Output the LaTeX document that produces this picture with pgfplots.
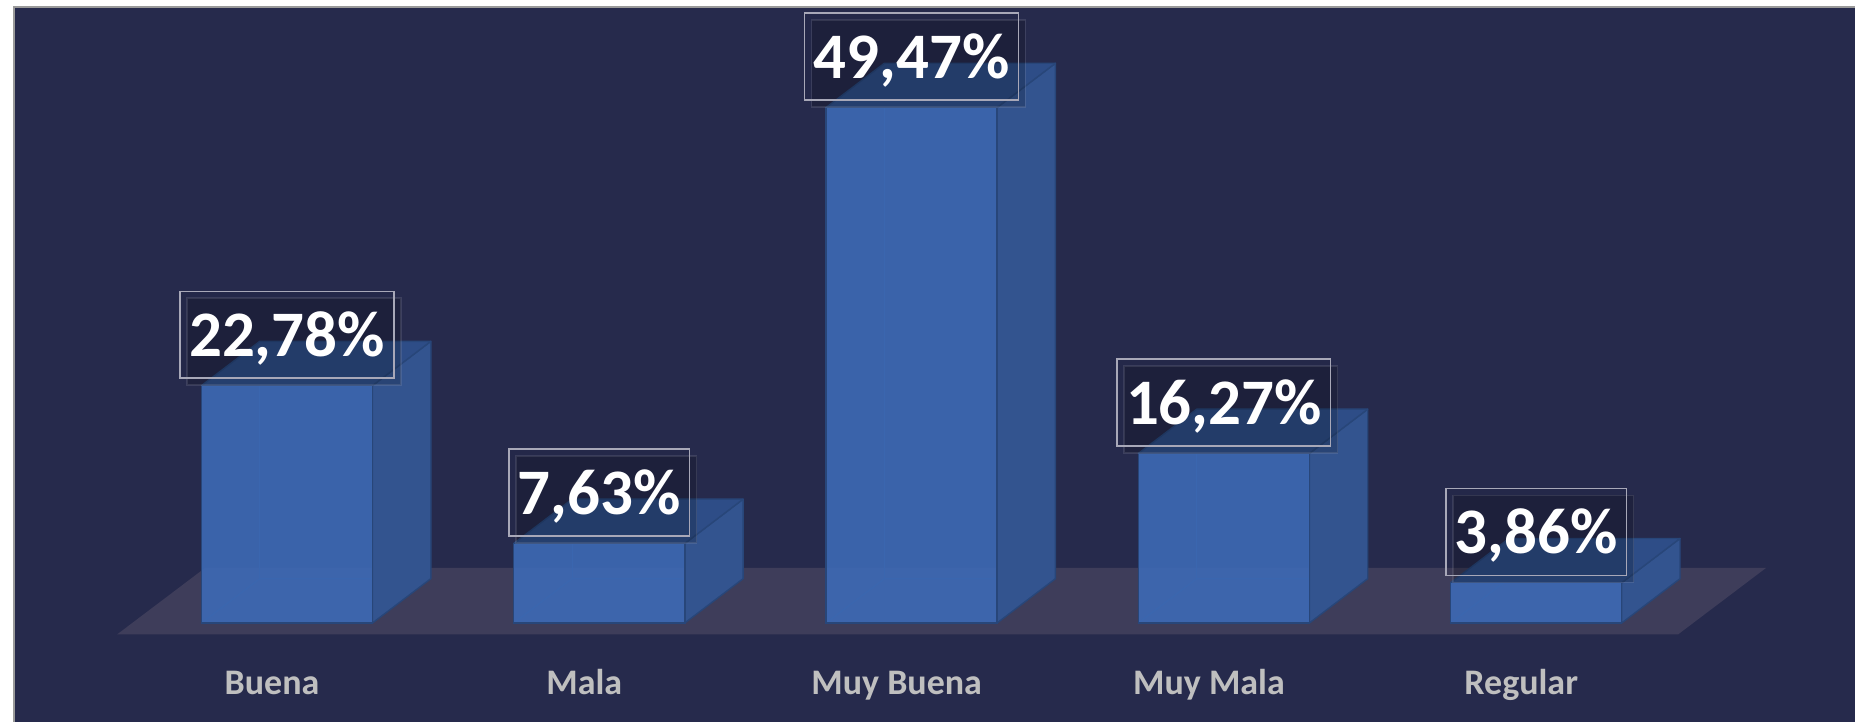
\documentclass[border=0pt]{standalone}
\usepackage{pgfplots}
\pgfplotsset{compat=1.18}
\usepackage{pgfplotstable}
\usepackage{fontspec}
\setmainfont{Carlito}
\usetikzlibrary{shadows}

\definecolor{navy}{HTML}{262A4C}
\definecolor{floorc}{HTML}{3E3D5A}
\definecolor{frontc}{HTML}{3D6AB5}
\definecolor{sidec}{HTML}{33548F}
\definecolor{topc}{HTML}{2E4D87}
\definecolor{edgec}{HTML}{284679}
\definecolor{borderc}{HTML}{9A9A9A}
\definecolor{labgray}{HTML}{BFBFBF}
\definecolor{boxc}{HTML}{A8A8B8}

\pgfplotstableread[col sep=semicolon]{
i;v;lab;cat
0;22.78;22,78\%;Buena
1;7.63;7,63\%;Mala
2;49.47;49,47\%;Muy Buena
3;16.27;16,27\%;Muy Mala
4;3.86;3,86\%;Regular
}\data

\tikzset{
  sideface/.style={fill=sidec, draw=edgec, line width=0.7pt, line join=round},
  topface/.style={fill=topc, draw=edgec, line width=0.7pt, line join=round},
  backedge/.style={draw=edgec, line width=0.6pt},
}

\newcommand\barfaces[2]{%
  \pgfmathsetmacro\xl{#1-0.2738}%
  \pgfmathsetmacro\xr{#1+0.2738}%
  \pgfmathsetmacro\xbl{#1-0.2738+0.1867}%
  \pgfmathsetmacro\xbr{#1+0.2738+0.1867}%
  \pgfmathsetmacro\vv{#2}%
  \pgfmathsetmacro\vt{#2+4.25}%
  \edef\doit{%
   \noexpand\addplot[backedge] coordinates {(\xl,0) (\xbl,4.25) (\xbr,4.25)};
   \noexpand\addplot[backedge] coordinates {(\xbl,4.25) (\xbl,\vt)};
   \noexpand\addplot[sideface] coordinates {(\xr,0) (\xbr,4.25) (\xbr,\vt) (\xr,\vv)} -- cycle;
   \noexpand\addplot[topface] coordinates {(\xl,\vv) (\xr,\vv) (\xbr,\vt) (\xbl,\vt)} -- cycle;
  }\doit
}

\begin{document}
\begin{tikzpicture}
\begin{axis}[
  width=925bp, height=360bp, scale only axis,
  xmin=-0.91899, xmax=5.02081,
  ymin=-9.501, ymax=59.789,
  hide axis, ticks=none,
]
\coordinate (bbl) at (rel axis cs:0,0);
\coordinate (btr) at (rel axis cs:1,1);
% background
\fill[white] (rel axis cs:0,0) rectangle (rel axis cs:1,1);
\fill[navy] (axis cs:-0.8742,-9.501) rectangle (axis cs:5.02081,59.117);
\draw[borderc, line width=0.8pt] (axis cs:-0.8742,-9.501) -- (axis cs:-0.8742,59.117) -- (axis cs:5.02081,59.117);
% floor
\fill[floorc] (axis cs:-0.5442,-1.104) -- (axis cs:4.4540,-1.104) -- (axis cs:4.7358,5.278) -- (axis cs:-0.2624,5.278) -- cycle;

% side, top faces and hidden edges
\pgfplotsinvokeforeach{0,...,4}{%
  \pgfplotstablegetelem{#1}{v}\of\data
  \barfaces{#1}{\pgfplotsretval}
}

% front faces with data labels
\addplot[ybar, bar width=0.5476, bar shift=0pt,
  fill=frontc, fill opacity=0.9, draw=edgec, draw opacity=1, line width=0.7pt,
  nodes near coords, point meta=explicit symbolic,
  every node near coord/.style={
    anchor=center, yshift=25.5pt,
    draw=boxc, line width=0.7pt, draw opacity=1,
    fill=black, fill opacity=0.04, text opacity=1,
    drop shadow={fill=black, opacity=0.18, shadow xshift=3.5pt, shadow yshift=-3.5pt},
    inner xsep=4.5pt, inner ysep=0pt, minimum height=43.5pt,
    text height=22pt, text depth=0pt,
    font=\bfseries\fontsize{32.5}{32.5}\selectfont, text=white}
] table[x=i, y=v, meta=lab] {\data};

% category labels
\addplot[only marks, mark=none,
  nodes near coords, point meta=explicit symbolic,
  every node near coord/.style={anchor=base, inner sep=0pt,
    font=\bfseries\fontsize{18}{18}\selectfont, text=labgray}
] table[x expr=\thisrow{i}-0.048, y expr=-6.862, meta=cat] {\data};
\end{axis}
\pgfresetboundingbox
\useasboundingbox (bbl) rectangle (btr);
\end{tikzpicture}
\end{document}
